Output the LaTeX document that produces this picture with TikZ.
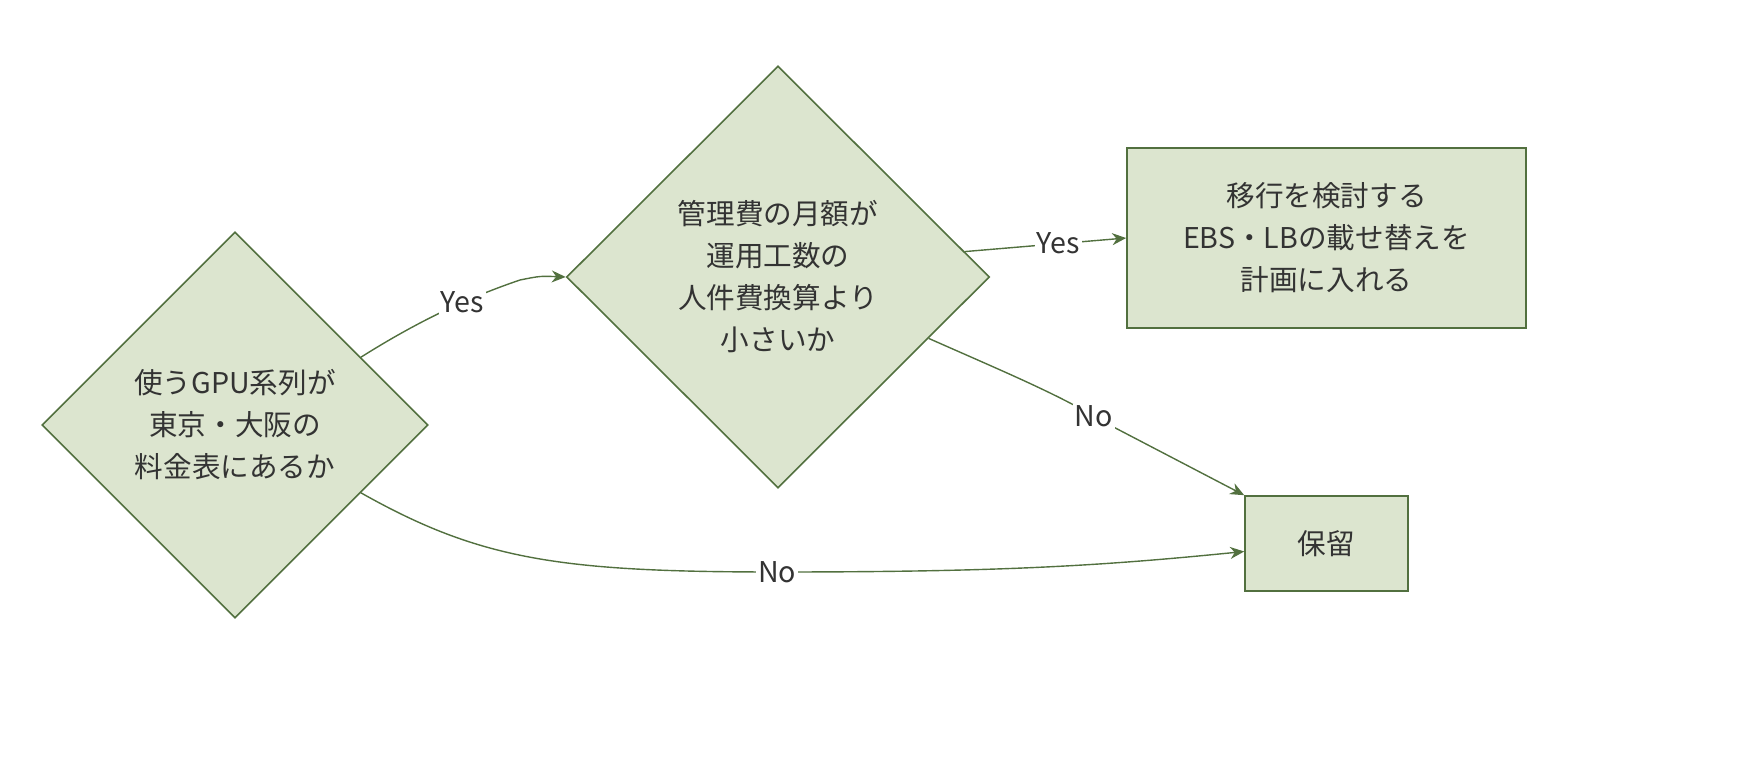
\documentclass[tikz,border=0pt]{standalone}
\usepackage{fontspec}
\setmainfont{Noto Sans CJK JP}
\usetikzlibrary{shapes.geometric,arrows.meta,calc}
\definecolor{fillg}{HTML}{DCE5CF}
\definecolor{lineg}{HTML}{52703F}
\definecolor{txt}{HTML}{333333}
\begin{document}
\begin{tikzpicture}[x=0.5pt,y=-0.5pt,
  every node/.style={text=txt,font=\fontsize{14.3pt}{21pt}\selectfont},
  dia/.style={diamond,draw=lineg,fill=fillg,line width=0.8pt,inner sep=0pt,align=center},
  box/.style={rectangle,draw=lineg,fill=fillg,line width=0.8pt,inner sep=0pt,align=center},
  arr/.style={draw=lineg,line width=0.7pt,-{Stealth[length=7pt,width=6pt]}},
  lab/.style={fill=white,inner sep=1pt}]
\useasboundingbox (0,0) rectangle (1764,774);
\node[dia,minimum width=193pt,minimum height=193pt] (d1) at (235,425) {使うGPU系列が\\東京・大阪の\\料金表にあるか};
\node[dia,minimum width=211.5pt,minimum height=211pt] (d2) at (778,277) {管理費の月額が\\運用工数の\\人件費換算より\\小さいか};
\node[box,minimum width=199.5pt,minimum height=90pt] (b1) at (1326.5,238) {移行を検討する\\EBS・LBの載せ替えを\\計画に入れる};
\node[box,minimum width=81.5pt,minimum height=47.5pt] (b2) at (1326.5,543.5) {保留};
\draw[arr] ($(d1.east)!0.35!(d1.north)$) .. controls (420,320) and (470,297) .. node[lab,pos=0.62] {Yes} (520,280) .. controls (540,276) .. (d2.west);
\draw[arr] ($(d2.east)!0.12!(d2.north)$) -- node[lab,pos=0.58] {Yes} (b1.west);
\draw[arr] ($(d2.east)!0.29!(d2.south)$) .. controls (1000,370) and (1060,395) .. node[lab,pos=0.95] {No} (1100,420) -- (b2.north west);
\draw[arr] ($(d1.east)!0.35!(d1.south)$) .. controls (480,560) and (560,572) .. (777,572) node[lab] (nl) {No} .. controls (1000,572) and (1100,566) .. ($(b2.west)+(0,8)$);
\end{tikzpicture}
\end{document}
